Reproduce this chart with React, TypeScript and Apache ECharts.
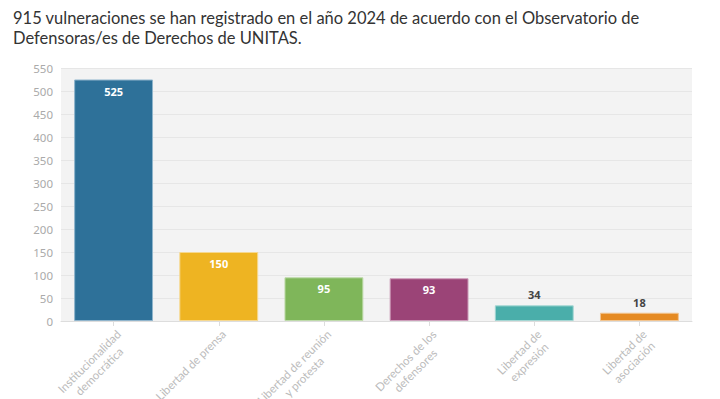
import React, { useEffect, useRef } from "react";
import * as echarts from "echarts";

const titleText =
  "915 vulneraciones se han registrado en el año 2024 de acuerdo con el Observatorio de\nDefensoras/es de Derechos de UNITAS.";
const categories = [
  "Institucionalidad\ndemocrática",
  "Libertad de prensa",
  "Libertad de reunión\ny protesta",
  "Derechos de los\ndefensores",
  "Libertad de\nexpresión",
  "Libertad de\nasociación",
];
const values = [525, 150, 95, 93, 34, 18];
const colors = ["#2e7199", "#eeb422", "#7fb65a", "#9b4477", "#4aaeaa", "#e58a22"];
const borderColors = ["#8fb4cc", "#f6d88f", "#bddaa9", "#cd9dba", "#a3d6d3", "#f2c48f"];
const insideThreshold = 60;

export default function App() {
  const ref = useRef<HTMLDivElement>(null);
  useEffect(() => {
    document.body.style.margin = "0";
    const chart = echarts.init(ref.current!, null, { renderer: "svg" });
    chart.setOption({
      animation: false,
      backgroundColor: "#ffffff",
      title: {
        text: titleText,
        left: 8,
        top: 3,
        textStyle: {
          fontFamily: "Lato",
          fontSize: 16.5,
          fontWeight: "normal",
          color: "#333333",
          lineHeight: 20,
        },
      },
      grid: {
        left: 61,
        right: 28,
        top: 68,
        bottom: 78,
        show: true,
        backgroundColor: "#f3f3f3",
        borderWidth: 0,
        outerBoundsMode: "none",
        containLabel: false,
      },
      xAxis: {
        type: "category",
        data: categories,
        axisLine: { lineStyle: { color: "#dddddd" } },
        axisTick: { show: true, alignWithLabel: true, length: 5, lineStyle: { color: "#dddddd" } },
        axisLabel: {
          rotate: 45,
          interval: 0,
          color: "#bbbbbb",
          fontFamily: "Lato",
          fontSize: 11.5,
          lineHeight: 14,
          align: "right",
          verticalAlign: "top",
          margin: 6,
          formatter: (v: string) =>
            v
              .split("\n")
              .map((s) => "{c|" + s + "}")
              .join("\n"),
          rich: {
            c: {
              align: "center",
              color: "#bbbbbb",
              fontFamily: "Lato",
              fontSize: 11.5,
              lineHeight: 14,
            },
          },
        },
      },
      yAxis: {
        type: "value",
        min: 0,
        max: 550,
        interval: 50,
        axisLine: { show: false },
        axisTick: { show: false },
        splitLine: { lineStyle: { color: "#e6e6e6", width: 1 } },
        axisLabel: {
          color: "#aaaaaa",
          fontFamily: "Noto Sans",
          fontSize: 11.5,
          margin: 8,
        },
      },
      series: [
        {
          type: "bar",
          barWidth: "75%",
          data: values.map((v, i) => ({
            value: v,
            itemStyle: { color: colors[i], borderColor: borderColors[i], borderWidth: 1 },
            label: {
              show: true,
              position: v > insideThreshold ? "insideTop" : "top",
              distance: v > insideThreshold ? 6 : 5,
              color: v > insideThreshold ? "#ffffff" : "#444444",
              fontWeight: "bold",
              fontFamily: "Noto Sans",
              fontSize: 11,
            },
          })),
        },
      ],
    });
    return () => chart.dispose();
  }, []);
  return <div ref={ref} style={{ width: 720, height: 399 }} />;
}
